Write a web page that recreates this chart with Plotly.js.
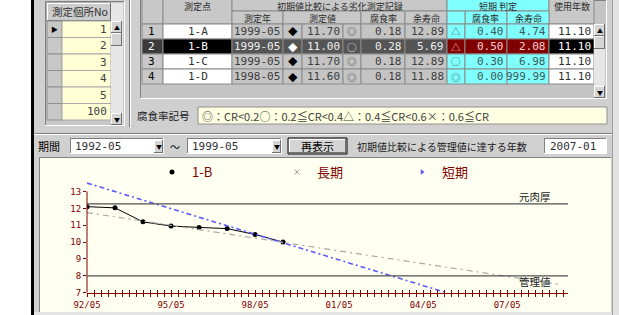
<!DOCTYPE html>
<html><head><meta charset="utf-8">
<script src="https://cdn.plot.ly/plotly-3.0.1.min.js"></script>
<style>html,body{margin:0;padding:0;background:#fff;}#chart{width:619px;height:315px;}</style>
</head><body><div id="chart"></div>
<script>
// ---- chart data ----
const seriesNames = ['1-B', '長期', '短期'];
const dates1B = ['1992-05','1993-05','1994-05','1995-05','1996-05','1997-05','1998-05','1999-05'];
const thick1B = [12.10, 12.03, 11.20, 10.95, 10.87, 10.80, 10.45, 10.00];
const longDates = ['1992-05', '2009-03'];
const longVals = [11.75, 7.50];
const shortDates = ['1992-05', '2005-03'];
const shortVals = [13.50, 7.00];
const refNames = ['元肉厚', '管理値'];
const refLevels = [12.27, 8.00];
const xRange = ['1992-05-01', '2009-07-01'];
const yTicks = [7, 8, 9, 10, 11, 12, 13];

// ---- table data ----
const panelNos = ['1','2','3','4','5','100'];
const rowNos = ['1','2','3','4'];
const points = ['1-A','1-B','1-C','1-D'];
const measYears = ['1999-05','1999-05','1999-05','1998-05'];
const measVals = ['11.70','11.00','11.70','11.60'];
const initSyms = ['◎','○','◎','◎'];
const initRates = ['0.18','0.28','0.18','0.18'];
const initLives = ['12.89','5.69','12.89','11.88'];
const shortSyms = ['△','△','○','◎'];
const shortRates = ['0.40','0.50','0.30','0.00'];
const shortLives = ['4.74','2.08','6.98','999.99'];
const usedYears = ['11.10','11.10','11.10','11.10'];
const headerTop = ['測定点','初期値比較による劣化測定記録','短期 判定','使用年数'];
const headerSub = ['測定年','測定値','腐食率','余寿命','腐食率','余寿命'];
const symbolNote = '◎：CR<0.2○：0.2≦CR<0.4△：0.4≦CR<0.6×：0.6≦CR';
const periodFrom = '1992-05', periodTo = '1999-05', reachYear = '2007-01';

// ---- helpers ----
const W = 619, H = 315;
const PX = x => x / W, PY = y => 1 - y / H;
const shapes = [], annotations = [];
const JP = 'Noto Sans CJK JP, Noto Sans, sans-serif';
const MONO = 'DejaVu Sans Mono, Liberation Mono, Noto Sans CJK JP, monospace';
function rect(x0,y0,x1,y1,fill,line,lw){
  shapes.push({type:'rect',xref:'paper',yref:'paper',x0:PX(x0),x1:PX(x1),y0:PY(y1),y1:PY(y0),
    fillcolor:fill,line:{color:line||'rgba(0,0,0,0)',width:line?(lw||1):0},layer:'below'});
}
function seg(x0,y0,x1,y1,color,w){
  shapes.push({type:'line',xref:'paper',yref:'paper',x0:PX(x0),x1:PX(x1),y0:PY(y0),y1:PY(y1),
    line:{color:color,width:w||1},layer:'below'});
}
function sunken(x0,y0,x1,y1){
  seg(x0,y0+.5,x1,y0+.5,'#808080'); seg(x0+.5,y0,x0+.5,y1,'#808080');
  seg(x0,y1-.5,x1,y1-.5,'#ffffff'); seg(x1-.5,y0,x1-.5,y1,'#ffffff');
}
function raised(x0,y0,x1,y1){
  seg(x0,y0+.5,x1,y0+.5,'#ffffff'); seg(x0+.5,y0,x0+.5,y1,'#ffffff');
  seg(x0,y1-.5,x1,y1-.5,'#707070'); seg(x1-.5,y0,x1-.5,y1,'#707070');
}
function txt(x,y,s,o){
  o = o || {};
  annotations.push({xref:'paper',yref:'paper',x:PX(x),y:PY(y),text:s,showarrow:false,
    xanchor:o.a||'left',yanchor:'middle',borderpad:0,
    font:{family:o.f||JP,size:o.s||10,color:o.c||'#202020'}});
}

// ---- window chrome ----
rect(34,0,612,315,'#d0d0d0');
rect(31,0,34,315,'#000000');
rect(612,0,619,315,'#e2e2e2');
seg(612.5,0,612.5,315,'#a0a0a0');

// left panel (測定個所No)
rect(45,1,125,126,'#c8c8c8'); sunken(45,1,125,126);
rect(47,3,111,21,'#cccccc','#909090'); raised(47,3,111,21);
txt(80,12,'測定個所No',{a:'center',s:10.5,c:'#303030'});
for (let i=0;i<panelNos.length;i++){
  const y0 = 21 + 16.5*i, y1 = y0 + 16.5, yc = (y0+y1)/2;
  rect(47,y0,62,y1,'#c8c8c8','#909090');
  rect(62,y0,111,y1,'#ffffd6','#a8a8a8');
  txt(108,yc,panelNos[i],{a:'right',f:MONO,s:11,c:'#404040'});
  if (i===0) txt(54.5,yc,'▶',{a:'center',s:7,c:'#000'});
}
rect(111,3,123,125,'#e6e6e6');
rect(111,21,122,33,'#d4d4d4'); raised(111,21,122,33); txt(116.5,27,'▲',{a:'center',s:6,c:'#000'});
rect(111,33,122,46,'#d4d4d4'); raised(111,33,122,46);
rect(111,113,122,125,'#d4d4d4'); raised(111,113,122,125); txt(116.5,119,'▼',{a:'center',s:6,c:'#000'});

// separator
seg(129.5,0,129.5,127,'#808080'); seg(130.5,0,130.5,127,'#ffffff');

// main table frame
rect(140,0,607,99,'#c4c4c4'); sunken(140,0,607,99);
const GRAY='#c8c8c8', CYAN='#80ffff';
function hcell(x0,y0,x1,y1,bg,t,yt){
  rect(x0,y0,x1,y1,bg,'#8a8a8a');
  if (t) txt((x0+x1)/2,yt,t,{a:'center',s:9,c:'#282828'});
}
hcell(142,-2,163,24,GRAY,'',0);
hcell(163,-2,232,24,GRAY,headerTop[0],6);
hcell(232,-2,447,11,GRAY,headerTop[1],6);
hcell(447,-2,549,11,CYAN,headerTop[2],6);
hcell(549,-2,594,24,GRAY,headerTop[3],6);
const subEdges = [[232,283],[283,361],[361,405],[405,447],[465,507],[507,549]];
for (let i=0;i<subEdges.length;i++){
  hcell(subEdges[i][0],11,subEdges[i][1],24,i>=4?CYAN:GRAY,headerSub[i],18);
}
hcell(447,11,465,24,CYAN,'',0);

for (let r=0;r<rowNos.length;r++){
  const y0 = 24 + 15*r, y1 = y0 + 15, yc = y0 + 7.5, sel = (r===1);
  const gbg = sel?'#555555':'#c4c4c4', gtx = sel?'#f0f0f0':'#3c3c3c';
  const cbg = sel?'#800000':CYAN, ctx = sel?'#ffd0d0':'#3a5a5a';
  rect(142,y0,163,y1,sel?'#3a3a3a':GRAY,'#8a8a8a');
  txt(147,yc,rowNos[r],{f:MONO,s:11,c:sel?'#fff':'#000'});
  rect(163,y0,232,y1,sel?'#000':'#fff','#8a8a8a');
  txt(197.5,yc,points[r],{a:'center',f:MONO,s:11,c:sel?'#fff':'#303030'});
  rect(232,y0,283,y1,gbg,'#8a8a8a');
  txt(281,yc,measYears[r],{a:'right',f:MONO,s:11,c:gtx});
  rect(283,y0,302,y1,gbg,'#8a8a8a');
  txt(292.5,yc,'◆',{a:'center',s:9.5,c:sel?'#fff':'#000'});
  rect(302,y0,343,y1,gbg,'#8a8a8a');
  txt(341,yc,measVals[r],{a:'right',f:MONO,s:11,c:gtx});
  rect(343,y0,361,y1,gbg,'#8a8a8a');
  txt(352,yc,initSyms[r],{a:'center',s:9.5,c:gtx});
  rect(361,y0,405,y1,gbg,'#8a8a8a');
  txt(403,yc,initRates[r],{a:'right',f:MONO,s:11,c:gtx});
  rect(405,y0,447,y1,gbg,'#8a8a8a');
  txt(445,yc,initLives[r],{a:'right',f:MONO,s:11,c:gtx});
  rect(447,y0,465,y1,cbg,'#8a8a8a');
  txt(456,yc,shortSyms[r],{a:'center',s:9.5,c:ctx});
  rect(465,y0,507,y1,cbg,'#8a8a8a');
  txt(505,yc,shortRates[r],{a:'right',f:MONO,s:11,c:ctx});
  rect(507,y0,549,y1,cbg,'#8a8a8a');
  txt(547,yc,shortLives[r],{a:'right',f:MONO,s:11,c:ctx});
  rect(549,y0,594,y1,sel?'#000':'#fff','#8a8a8a');
  txt(592,yc,usedYears[r],{a:'right',f:MONO,s:11,c:sel?'#fff':'#303030'});
}
rect(594,24,605,98,'#e6e6e6');
rect(594,24,605,36,'#d4d4d4'); raised(594,24,605,36); txt(599.5,30,'▲',{a:'center',s:6,c:'#000'});
rect(594,36,605,49,'#d4d4d4'); raised(594,36,605,49);
rect(594,86,605,98,'#d4d4d4'); raised(594,86,605,98); txt(599.5,92,'▼',{a:'center',s:6,c:'#000'});

// symbol note
txt(136,115.5,'腐食率記号',{s:10.5,c:'#202020'});
rect(198,107,607,124,'#ffffe2','#909090');
txt(201,115.5,symbolNote,{s:11,c:'#404040'});

// divider
seg(34,133.5,612,133.5,'#808080'); seg(34,134.5,612,134.5,'#ffffff');

// toolbar
txt(37,146,'期間',{s:11,c:'#000'});
rect(70,138,164,154,'#ffffff'); sunken(70,138,164,154);
rect(154,140,163,153,'#d4d4d4'); raised(154,140,163,153); txt(158.5,146.5,'▼',{a:'center',s:6,c:'#000'});
txt(74,146,periodFrom,{f:MONO,s:11,c:'#303030'});
txt(175,146,'～',{a:'center',s:10,c:'#000'});
rect(187,138,282,154,'#ffffff'); sunken(187,138,282,154);
rect(272,140,281,153,'#d4d4d4'); raised(272,140,281,153); txt(276.5,146.5,'▼',{a:'center',s:6,c:'#000'});
txt(191,146,periodTo,{f:MONO,s:11,c:'#303030'});
rect(288,138,347,154,'#d4d4d4','#000000'); raised(289,139,346,153);
txt(317.5,146,'再表示',{a:'center',s:11,c:'#000'});
txt(356,146,'初期値比較による管理値に達する年数',{s:10,c:'#202020'});
rect(544,138,607,154,'#ffffff'); sunken(544,138,607,154);
txt(597,146,reachYear,{a:'right',f:MONO,s:11,c:'#303030'});

// chart panel
rect(39,157,611,312,'#fffff2');
seg(39,157.5,611,157.5,'#808080'); seg(39.5,157,39.5,312,'#808080');
rect(34,312,612,315,'#e4e4e4');

// ---- chart (data-driven) ----
const yTop = 13.8, y7px = 292.7, perUnit = 16.87;
const yDomTopPx = y7px - (yTop-7)*perUnit;

shapes.push({type:'line',xref:'x domain',yref:'y',x0:0,x1:0,y0:yTicks[0],y1:yTicks[yTicks.length-1],
  line:{color:'#800000',width:1}});
refLevels.forEach((lv,i)=>{
  shapes.push({type:'line',xref:'x',yref:'y',x0:xRange[0],x1:xRange[1],y0:lv,y1:lv,
    line:{color:'#505050',width:1.3}});
  annotations.push({xref:'paper',yref:'y',x:PX(553),y:lv,yshift:i===0?7:-6,text:refNames[i],
    showarrow:false,xanchor:'right',yanchor:'middle',font:{family:JP,size:10.5,color:'#202020'}});
});

const traces = [
  {x:dates1B,y:thick1B,type:'scatter',mode:'lines+markers',name:seriesNames[0],showlegend:false,
   line:{color:'#000',width:1},marker:{color:'#000',size:5},hoverinfo:'skip'},
  {x:longDates,y:longVals,type:'scatter',mode:'lines',name:seriesNames[1],showlegend:false,xaxis:'x2',
   line:{color:'#a8a8a8',width:1.2,dash:'6px,4px,2px,4px'},hoverinfo:'skip'},
  {x:shortDates,y:shortVals,type:'scatter',mode:'lines',name:seriesNames[2],showlegend:false,
   line:{color:'#5a5aff',width:1.6,dash:'5px,3px,2px,3px'},hoverinfo:'skip'},
  {x:[null],y:[null],type:'scatter',mode:'markers',name:seriesNames[0],marker:{symbol:'circle',size:5,color:'#000'}},
  {x:[null],y:[null],type:'scatter',mode:'markers',name:seriesNames[1],marker:{symbol:'x-thin',size:5,line:{color:'#a0a0a0',width:1},color:'#a0a0a0'}},
  {x:[null],y:[null],type:'scatter',mode:'markers',name:seriesNames[2],marker:{symbol:'triangle-right',size:5,color:'#5a5aff'}}
];

const layout = {
  width:W,height:H,margin:{l:0,r:0,t:0,b:0},
  paper_bgcolor:'#ffffff',plot_bgcolor:'rgba(0,0,0,0)',
  showlegend:true,
  xaxis:{type:'date',range:xRange,domain:[PX(87),PX(568)],anchor:'y',
    showgrid:false,zeroline:false,showline:true,linecolor:'#800000',linewidth:1,
    ticks:'outside',ticklen:3,tickcolor:'#800000',tickwidth:1,
    tick0:'1992-05-01',dtick:'M36',tickformat:'%y/%m',
    tickfont:{family:MONO,size:9,color:'#800000'},
    minor:{ticks:'outside',ticklen:3,tickcolor:'#800000',dtick:'M3',tick0:'1992-05-01',showgrid:false}},
  xaxis2:{type:'date',range:xRange,overlaying:'x',anchor:'y',showgrid:false,zeroline:false,showline:false,
    ticks:'inside',ticklen:3,tickcolor:'#800000',tick0:'1992-05-01',dtick:'M3',showticklabels:false},
  yaxis:{range:[7,yTop],domain:[PY(y7px),PY(yDomTopPx)],showgrid:false,zeroline:false,showline:false,
    ticks:'outside',ticklen:3,tickcolor:'#800000',tickvals:yTicks,
    tickfont:{family:MONO,size:9,color:'#800000'}},
  legend:{orientation:'h',x:PX(152),y:PY(172),xanchor:'left',yanchor:'middle',
    bgcolor:'rgba(0,0,0,0)',font:{family:JP,size:13,color:'#800000'},
    entrywidth:80,entrywidthmode:'pixels',itemclick:false,itemdoubleclick:false},
  shapes:shapes,annotations:annotations
};
Plotly.newPlot('chart',traces,layout,{staticPlot:true,displayModeBar:false});
</script></body></html>
